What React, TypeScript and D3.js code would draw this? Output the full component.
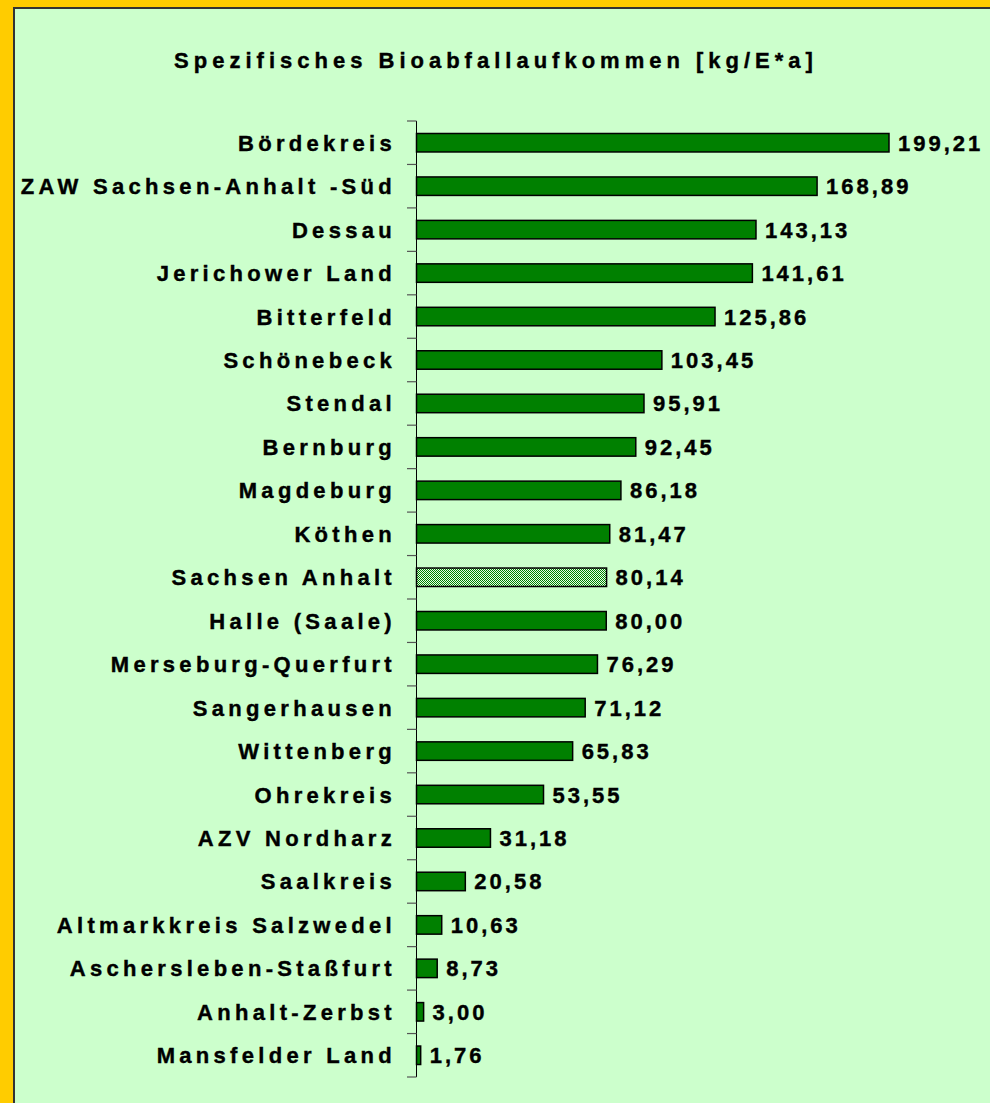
import React from "react";
import * as d3 from "d3";

const title = "Spezifisches Bioabfallaufkommen [kg/E*a]";
const categories = [
  "Bördekreis",
  "ZAW Sachsen-Anhalt -Süd",
  "Dessau",
  "Jerichower Land",
  "Bitterfeld",
  "Schönebeck",
  "Stendal",
  "Bernburg",
  "Magdeburg",
  "Köthen",
  "Sachsen Anhalt",
  "Halle (Saale)",
  "Merseburg-Querfurt",
  "Sangerhausen",
  "Wittenberg",
  "Ohrekreis",
  "AZV Nordharz",
  "Saalkreis",
  "Altmarkkreis Salzwedel",
  "Aschersleben-Staßfurt",
  "Anhalt-Zerbst",
  "Mansfelder Land",
];
const values = [
  199.21, 168.89, 143.13, 141.61, 125.86, 103.45, 95.91, 92.45, 86.18, 81.47,
  80.14, 80.0, 76.29, 71.12, 65.83, 53.55, 31.18, 20.58, 10.63, 8.73, 3.0, 1.76,
];
const highlighted = ["Sachsen Anhalt"];

const W = 990;
const H = 1103;
const axisX = 416.5;
const plotTop = 121;
const plotBottom = 1077;

export default function App() {
  const x = d3.scaleLinear().domain([0, 199.21]).range([axisX, 889]);
  const y = d3
    .scaleBand<string>()
    .domain(categories)
    .range([plotTop, plotBottom])
    .paddingInner(0.575)
    .paddingOuter(0.2875);
  const step = y.step();
  const fmt = (v: number) => d3.format(".2f")(v).replace(".", ",");
  const font = "Arial, 'Liberation Sans', sans-serif";
  const ticks = d3.range(categories.length + 1).map((i) => plotTop + i * step);

  return (
    <svg
      width={W}
      height={H}
      style={{ position: "absolute", left: 0, top: 0, display: "block" }}
    >
      <defs>
        <pattern id="dither" width="2" height="2" patternUnits="userSpaceOnUse">
          <rect width="2" height="2" fill="#e8ffe8" />
          <rect x="0" y="0" width="1" height="1" fill="#008000" />
          <rect x="1" y="1" width="1" height="1" fill="#008000" />
        </pattern>
      </defs>
      <rect x={0} y={0} width={W} height={H} fill="#FFCC00" />
      <rect x={13} y={7} width={W} height={H} fill="#333333" />
      <rect x={15} y={9} width={W} height={H} fill="#CCFFCC" />
      <text
        x={496}
        y={68}
        textAnchor="middle"
        fontFamily={font}
        fontWeight="bold"
        fontSize={22}
        letterSpacing={5}
        stroke="#000"
        strokeWidth={0.4}
        fill="#000"
      >
        {title}
      </text>
      {categories.map((c, i) => {
        const yy = y(c)!;
        const v = values[i];
        const hi = highlighted.includes(c);
        return (
          <g key={c}>
            <rect
              x={x(0)}
              y={yy}
              width={Math.max(0, x(v) - x(0))}
              height={y.bandwidth()}
              fill={hi ? "url(#dither)" : "#008000"}
              stroke="#000"
              strokeWidth={1.5}
            />
            <text
              x={396}
              y={yy + y.bandwidth() / 2 + 8}
              textAnchor="end"
              fontFamily={font}
              fontWeight="bold"
              fontSize={22}
              letterSpacing={4.3}
              stroke="#000"
              strokeWidth={0.4}
              fill="#000"
            >
              {c}
            </text>
            <text
              x={x(v) + 9}
              y={yy + y.bandwidth() / 2 + 8}
              fontFamily={font}
              fontWeight="bold"
              fontSize={22}
              letterSpacing={3}
              stroke="#000"
              strokeWidth={0.4}
              fill="#000"
            >
              {fmt(v)}
            </text>
          </g>
        );
      })}
      <line x1={axisX} x2={axisX} y1={plotTop} y2={plotBottom} stroke="#000" strokeWidth={1} />
      {ticks.map((t, i) => (
        <line key={i} x1={407} x2={axisX} y1={t} y2={t} stroke="#555" strokeWidth={1.2} />
      ))}
    </svg>
  );
}
